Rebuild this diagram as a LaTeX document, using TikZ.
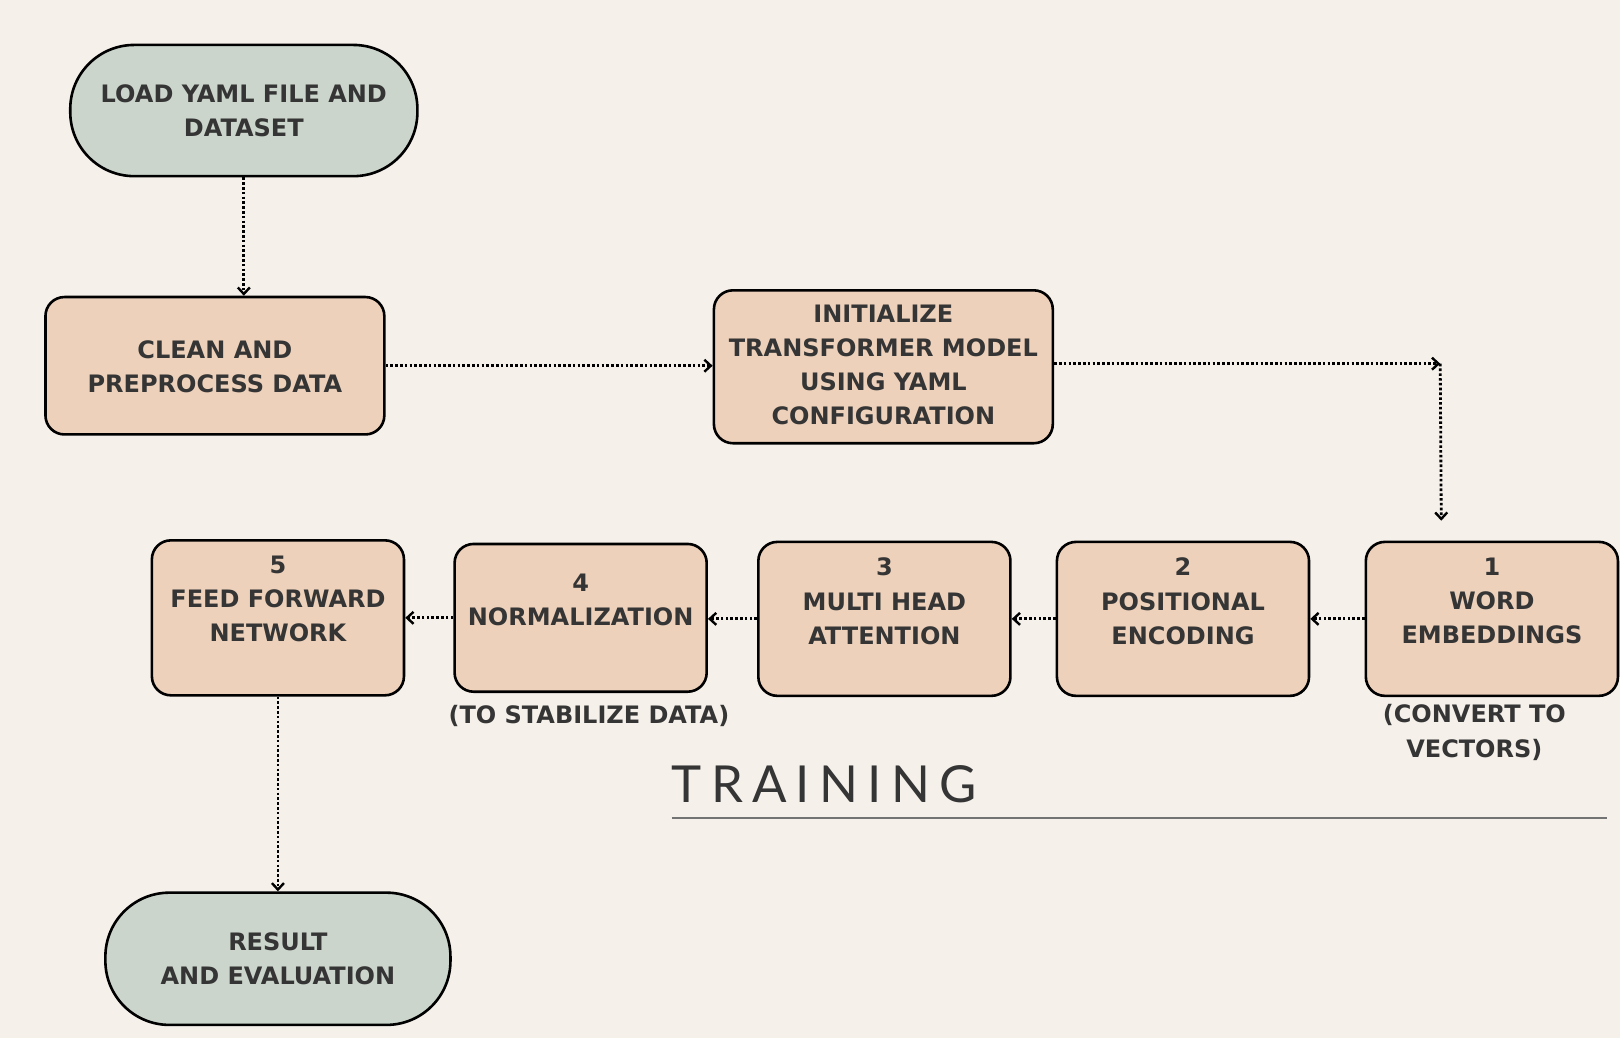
\documentclass[tikz,border=0pt]{standalone}
\usepackage{fontspec}
\setmainfont{DejaVu Sans}
\newfontfamily\titlefont[LetterSpace=18]{Lato}
\usetikzlibrary{arrows.meta}
\definecolor{bgc}{HTML}{F5F0EA}
\definecolor{peach}{HTML}{EDD1BB}
\definecolor{sage}{HTML}{CBD5CB}
\definecolor{ink}{HTML}{353535}
\def\px{1.0332pt}
\tikzset{
  boxbase/.style={draw=black, line width=2.6pt, inner sep=0pt},
  procbox/.style={boxbase, fill=peach, rounded corners=19pt},
  termbox/.style={boxbase, fill=sage, rounded corners=64pt},
  boxtext/.style={text=ink, font=\bfseries\fontsize{24}{34.1}\selectfont, align=center, inner sep=0pt},
  flow/.style={line width=2.8pt, dash pattern=on 2.6pt off 2.2pt, -{Straight Barb[length=6.5pt,width=12pt,line width=2.4pt]}},
}
\begin{document}
\begin{tikzpicture}[x=1.0332pt,y=-1.0332pt]
\fill[bgc] (0,0) rectangle (1568,1004.7);
\useasboundingbox (0,0) rectangle (1568,1004.7);
% boxes
\node[termbox, minimum width=336*\px, minimum height=127*\px] (load) at (236,107) {};
\node[procbox, minimum width=328*\px, minimum height=133*\px] (clean) at (208,354) {};
\node[procbox, minimum width=328*\px, minimum height=148*\px] (init) at (855,355) {};
\node[procbox, minimum width=244*\px, minimum height=149*\px] (b1) at (1444,599) {};
\node[procbox, minimum width=244*\px, minimum height=149*\px] (b2) at (1145,599) {};
\node[procbox, minimum width=244*\px, minimum height=149*\px] (b3) at (856,599) {};
\node[procbox, minimum width=244*\px, minimum height=143*\px] (b4) at (562,598) {};
\node[procbox, minimum width=244*\px, minimum height=150*\px] (b5) at (269,598) {};
\node[termbox, minimum width=334*\px, minimum height=128*\px] (res) at (269,928) {};
% texts
\node[boxtext] (tload) at (236,107) {LOAD YAML FILE AND\\DATASET};
\node[boxtext] (tclean) at (208,355) {CLEAN AND\\PREPROCESS DATA};
\node[boxtext] (tinit) at (855,353) {INITIALIZE\\TRANSFORMER MODEL\\USING YAML\\CONFIGURATION};
\node[boxtext] (t1) at (1444,582) {1\\WORD\\EMBEDDINGS};
\node[boxtext] (t2) at (1145,582) {2\\POSITIONAL\\ENCODING};
\node[boxtext] (t3) at (856,582) {3\\MULTI HEAD\\ATTENTION};
\node[boxtext] (t4) at (562,581) {4\\NORMALIZATION};
\node[boxtext] (t5) at (269,580) {5\\FEED FORWARD\\NETWORK};
\node[boxtext] (tres) at (269,928) {RESULT\\AND EVALUATION};
\node[boxtext] (stab) at (570,693) {(TO STABILIZE DATA)};
\node[boxtext] (conv) at (1427,709) {(CONVERT TO\\VECTORS)};
\node[text=ink, font=\titlefont\fontsize{51}{51}\selectfont, inner sep=0pt, anchor=west] (train) at (650,759) {TRAINING};
\coordinate (ulA) at (650,792);
\coordinate (ulB) at (1555,792);
\draw[color=black!55, line width=2pt] (ulA) -- (ulB);
% connectors
\coordinate (corner) at (1394,352);
\coordinate (downend) at (1395,504);
\draw[flow] (load.south) -- (load.south |- clean.north);
\draw[flow] (clean.east) -- (clean.east -| init.west);
\draw[flow] (init.east |- corner) -- (corner);
\draw[flow] (corner) -- (downend);
\draw[flow] (b1.west) -- (b1.west -| b2.east);
\draw[flow] (b2.west) -- (b2.west -| b3.east);
\draw[flow] (b3.west) -- (b3.west -| b4.east);
\draw[flow] (b4.west) -- (b4.west -| b5.east);
\draw[flow] (b5.south) -- (b5.south |- res.north);
\end{tikzpicture}
\end{document}
